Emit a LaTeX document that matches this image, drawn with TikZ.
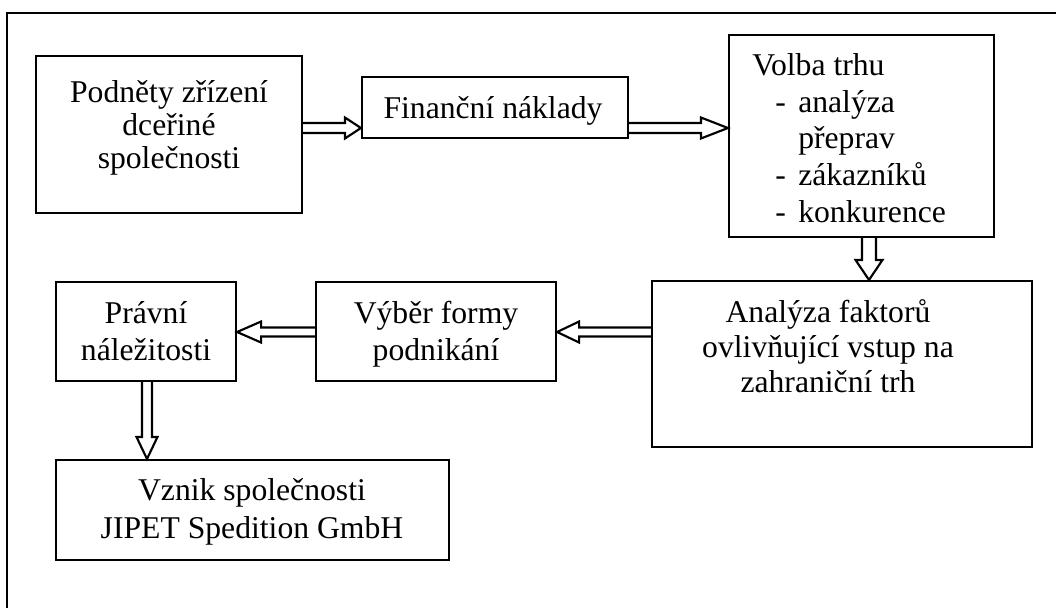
\documentclass[tikz,border=0pt]{standalone}
\usepackage{fontspec}
\setmainfont{Liberation Serif}
\usetikzlibrary{calc}

% Hollow block arrow from #1 to the tip #2.
% #3,#4: unit direction; #5: shaft half-width; #6: head half-width; #7: head length
\newcommand{\blockarrow}[7]{%
  \draw[hollow arrow]
    ([shift={({-(#4)*(#5)},{(#3)*(#5)})}]#1)
    -- ([shift={({-(#7)*(#3)-(#5)*(#4)},{-(#7)*(#4)+(#5)*(#3)})}]#2)
    -- ([shift={({-(#7)*(#3)-(#6)*(#4)},{-(#7)*(#4)+(#6)*(#3)})}]#2)
    -- (#2)
    -- ([shift={({-(#7)*(#3)+(#6)*(#4)},{-(#7)*(#4)-(#6)*(#3)})}]#2)
    -- ([shift={({-(#7)*(#3)+(#5)*(#4)},{-(#7)*(#4)-(#5)*(#3)})}]#2)
    -- ([shift={({(#4)*(#5)},{-(#3)*(#5)})}]#1);%
}

\tikzset{
  box/.style={draw, line width=1.6pt, rectangle, inner sep=0pt},
  label text/.style={inner sep=0pt, align=center, anchor=base},
  hollow arrow/.style={draw, line width=1.6pt, line join=miter},
  frame line/.style={draw, line width=1.2pt},
}

\begin{document}
\begin{tikzpicture}[x=0.75pt, y=-0.75pt]
  \useasboundingbox (0,0) rectangle (1056,608);

  % page frame
  \draw[frame line] (7,608) -- (7,13) -- (1056,13);

  % boxes
  \node[box, minimum width=199.5pt,  minimum height=117.75pt] (b1) at (169,134.5) {};
  \node[box, minimum width=199.5pt,  minimum height=45.75pt]  (b2) at (495,107.5) {};
  \node[box, minimum width=198.75pt, minimum height=151.5pt]  (b3) at (861.5,136) {};
  \node[box, minimum width=285pt,    minimum height=124.5pt]  (b4) at (842,364) {};
  \node[box, minimum width=180pt,    minimum height=74.25pt]  (b5) at (436,331.5) {};
  \node[box, minimum width=135pt,    minimum height=74.25pt]  (b6) at (146,331.5) {};
  \node[box, minimum width=294.75pt, minimum height=75pt]     (b7) at (252.5,510) {};

  % texts (placed at the baseline of their last line)
  \node[label text, font=\fontsize{23.75}{24.75}\selectfont] (t1) at (169,168)
    {Podněty zřízení\\dceřiné\\společnosti};
  \node[label text, font=\fontsize{23.75}{24.75}\selectfont] (t2) at (493,118)
    {Finanční náklady};
  \node[label text, align=left, anchor=base west, font=\fontsize{23.75}{27.5}\selectfont] (t3) at (752,222)
    {Volba trhu\\
     \makebox[34.5pt][l]{\hspace*{17.25pt}-}analýza\\
     \hspace*{34.5pt}přeprav\\
     \makebox[34.5pt][l]{\hspace*{17.25pt}-}zákazníků\\
     \makebox[34.5pt][l]{\hspace*{17.25pt}-}konkurence};
  \node[label text, font=\fontsize{23.75}{25.9}\selectfont] (t4) at (828,392)
    {Analýza faktorů\\ovlivňující vstup na\\zahraniční trh};
  \node[label text, font=\fontsize{23.75}{27.75}\selectfont] (t5) at (436,360)
    {Výběr formy\\podnikání};
  \node[label text, font=\fontsize{23.75}{27.75}\selectfont] (t6) at (146,360)
    {Právní\\náležitosti};
  \node[label text, font=\fontsize{23.75}{28.5}\selectfont] (t7) at (252,538)
    {Vznik společnosti\\JIPET Spedition GmbH};

  % connector end points
  \coordinate (a1s) at (b1.east |- 0,128);
  \coordinate (a1e) at (b2.west |- 0,128);
  \coordinate (a2s) at (b2.east |- 0,128);
  \coordinate (a2e) at (b3.west |- 0,128);
  \coordinate (a3s) at (869,0 |- b3.south);
  \coordinate (a3e) at (869,0 |- b4.north);
  \coordinate (a4s) at (b4.west |- 0,332);
  \coordinate (a4e) at (b5.east |- 0,332);
  \coordinate (a5s) at (b5.west |- 0,332);
  \coordinate (a5e) at (b6.east |- 0,332);
  \coordinate (a6s) at (147,0 |- b6.south);
  \coordinate (a6e) at (147,0 |- b7.north);

  % connectors
  \blockarrow{a1s}{a1e}{1}{0}{5}{10.5}{16}
  \blockarrow{a2s}{a2e}{1}{0}{5}{10.5}{27}
  \blockarrow{a3s}{a3e}{0}{1}{7}{13.5}{20}
  \blockarrow{a4s}{a4e}{-1}{0}{4.5}{10.5}{22}
  \blockarrow{a5s}{a5e}{-1}{0}{4.5}{10.5}{24}
  \blockarrow{a6s}{a6e}{0}{1}{5}{10.5}{22}
\end{tikzpicture}
\end{document}
